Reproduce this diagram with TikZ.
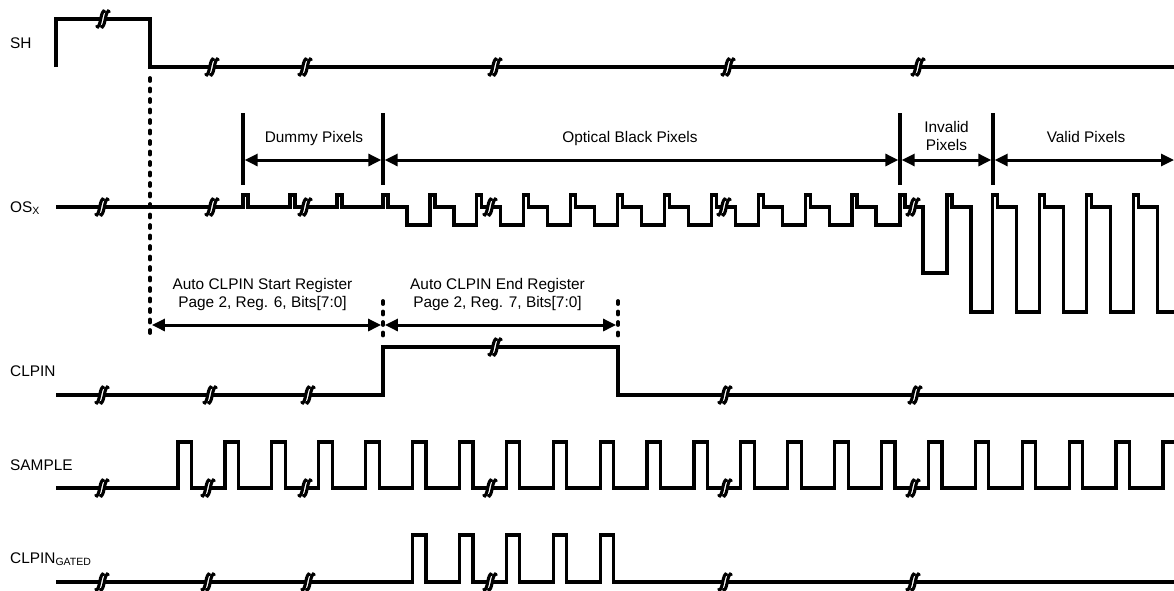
\documentclass[tikz,border=0pt]{standalone}
\usepackage{fontspec}
\setmainfont{Liberation Sans}
\usetikzlibrary{arrows.meta}
\begin{document}
\begin{tikzpicture}[x=1pt,y=-1pt,
  sig/.style={line width=3.2pt, line join=miter},
  tickline/.style={line width=3.3pt},
  dim/.style={line width=3pt, {Triangle[length=13pt,width=12pt]}-{Triangle[length=13pt,width=12pt]}, shorten <=1.65pt, shorten >=1.65pt},
  dimd/.style={line width=3pt, {Triangle[length=13pt,width=12pt]}-{Triangle[length=13pt,width=12pt]}, shorten <=1.9pt, shorten >=1.9pt},
  dotline/.style={line width=3.8pt, line cap=round, dash pattern=on 3pt off 7.5pt},
  lbl/.style={font=\fontsize{15.4}{18.5}\selectfont, inner sep=0pt, align=center},
  brkline/.style={line width=3.1pt, line cap=round},
  brk/.pic={
    \fill[white] (-2.2,-2.6) rectangle (2.2,2.6);
    \draw[brkline] (-6.3,7.3) .. controls (-4.8,9.6) and (-3.2,5.2) .. (-2.3,0) .. controls (-1.4,-5.2) and (0.2,-9.6) .. (1.7,-7.3);
    \draw[brkline] (-1.7,7.3) .. controls (-0.2,9.6) and (1.4,5.2) .. (2.3,0) .. controls (3.2,-5.2) and (4.8,-9.6) .. (6.3,-7.3);
  }
]
\useasboundingbox (0,0) rectangle (1174,590);

% signal names
\node[lbl, anchor=base west] (nsh) at (10,48.3) {SH};
\node[lbl, anchor=base west] (nos) at (10,212.5) {OS\raisebox{-2pt}{\fontsize{10.5}{10.5}\selectfont X}};
\node[lbl, anchor=base west] (nclpin) at (10,376.7) {CLPIN};
\node[lbl, anchor=base west] (nsample) at (10,470.5) {SAMPLE};
\node[lbl, anchor=base west] (ngated) at (10,563) {CLPIN\raisebox{-2pt}{\fontsize{10.5}{10.5}\selectfont GATED}};

% SH
\draw[sig] (56,67) -- (56,19) -- (150,19) -- (150,67) -- (1174,67);
\pic at (103,19) {brk};
\foreach \x in {212,305,495,728,918} \pic at (\x,67) {brk};

% OSx
\draw[sig] (56,207)
  foreach \r in {243,290,337} { -- (\r,207) -- (\r,195) -- ({\r+5},195) -- ({\r+5},207) }
  -- (383,207) -- (383,195) -- (388,195) -- (388,207) -- (407,207) -- (407,225)
  foreach \k in {1,...,10} { -- ({383+46.9*\k},225) -- ({383+46.9*\k},195) -- ({388+46.9*\k},195) -- ({388+46.9*\k},207) -- ({407+46.9*\k},207) -- ({407+46.9*\k},225) }
  -- (900,225) -- (900,195) -- (905,195) -- (905,207) -- (923,207) -- (923,273) -- (947,273) -- (947,195) -- (952,195) -- (952,207) -- (971,207) -- (971,312)
  foreach \k in {13,...,16} { -- ({383+46.9*\k},312) -- ({383+46.9*\k},195) -- ({388+46.9*\k},195) -- ({388+46.9*\k},207) -- ({407+46.9*\k},207) -- ({407+46.9*\k},312) }
  -- (1174,312);
\foreach \x in {102,212,305,490,724,913} \pic at (\x,207) {brk};

% pixel region markers
\foreach \x/\n in {243/a,383/b,900/c,993/d} {
  \draw[tickline] (\x,113) -- (\x,185);
  \coordinate (m\n) at (\x,160);
}
\coordinate (mend) at (1174,160);
\draw[dim] (ma) -- (mb);
\draw[dim] (mb) -- (mc);
\draw[dim] (mc) -- (md);
\draw[dim, shorten >=0pt] (md) -- (mend);
\node[lbl, anchor=base] (tdummy) at (314,142) {Dummy Pixels};
\node[lbl, anchor=base] (tob) at (630,142) {Optical Black Pixels};
\node[lbl, anchor=north] (tinv) at (946.5,121) {Invalid\\Pixels};
\node[lbl, anchor=base] (tvalid) at (1086,142) {Valid Pixels};

% register markers
\draw[dotline] (150,78) -- (150,340);
\draw[dotline] (383,301) -- (383,340);
\draw[dotline] (618,301) -- (618,340);
\coordinate (ra) at (150,325);
\coordinate (rb) at (383,325);
\coordinate (rc) at (618,325);
\draw[dimd] (ra) -- (rb);
\draw[dimd] (rb) -- (rc);
\node[lbl, anchor=north] (tstart) at (262.5,278) {Auto CLPIN Start Register\\Page 2, Reg. 6, Bits[7:0]};
\node[lbl, anchor=north] (tend) at (497.5,278) {Auto CLPIN End Register\\Page 2, Reg. 7, Bits[7:0]};

% CLPIN
\draw[sig] (56,395) -- (383,395) -- (383,347) -- (618,347) -- (618,395) -- (1174,395);
\foreach \x in {102,210,308,725,915} \pic at (\x,395) {brk};
\pic at (495,347) {brk};

% SAMPLE
\draw[sig] (56,488)
  foreach \k in {0,...,20} { -- ({178+46.9*\k},488) -- ({178+46.9*\k},442) -- ({191.5+46.9*\k},442) -- ({191.5+46.9*\k},488) }
  -- (1162.9,488) -- (1162.9,442) -- (1174,442);
\foreach \x in {102,208,305,490,725,913} \pic at (\x,488) {brk};

% CLPIN GATED
\draw[sig] (56,582)
  foreach \k in {5,...,9} { -- ({178+46.9*\k},582) -- ({178+46.9*\k},535) -- ({191.5+46.9*\k},535) -- ({191.5+46.9*\k},582) }
  -- (1174,582);
\foreach \x in {102,208,308,490,725,913} \pic at (\x,582) {brk};
\end{tikzpicture}
\end{document}
